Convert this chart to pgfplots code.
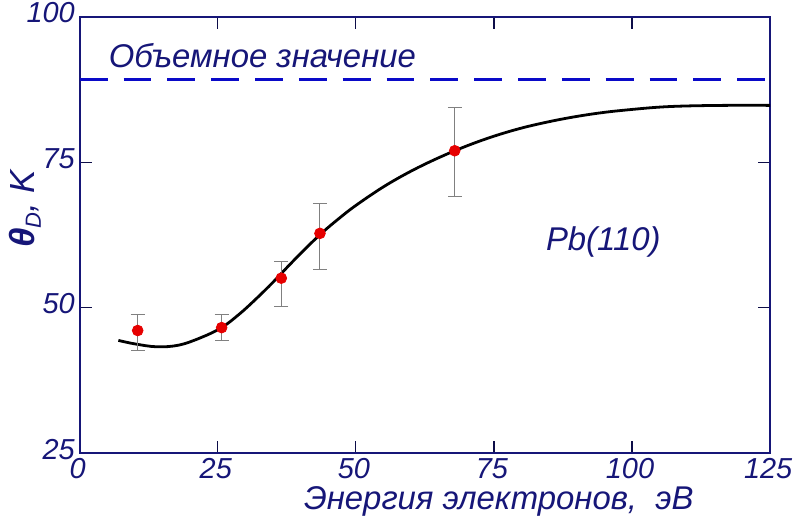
\documentclass[border=0pt]{standalone}
\usepackage{fontspec}
\setmainfont{Liberation Sans}
\usepackage{pgfplots}
\pgfplotsset{compat=1.18}
\definecolor{navy}{RGB}{22,22,120}
\definecolor{dashblue}{RGB}{10,10,200}
\definecolor{ptred}{RGB}{230,0,0}
\begin{document}
\begin{tikzpicture}
\useasboundingbox (-40pt,-31pt) rectangle (359.5pt,227.5pt);
\begin{axis}[
  at={(0,0)},anchor=south west,
  width=346.5pt,height=219pt,scale only axis,
  xmin=0,xmax=125,ymin=25,ymax=100,
  xtick={0,25,50,75,100,125},ytick={25,50,75,100},
  tick align=inside,major tick length=6pt,
  xtick pos=both,ytick pos=both,
  xticklabel pos=lower,yticklabel pos=left,
  axis line style={navy,line width=1pt},
  tick style={navy!60!black,line width=0.6pt},
  tick label style={font=\fontsize{14.5}{17}\selectfont\itshape,text=navy,inner sep=1pt},
  xticklabel style={yshift=-1.3pt,xshift=-1pt},
  yticklabel style={yshift=2pt,xshift=-1.3pt},
  /pgf/number format/assume math mode=true,
  xlabel={Энергия электронов,\ \ эВ},
  xlabel style={font=\fontsize{16.5}{18}\selectfont\itshape,text=navy,
    at={(rel axis cs:0.607,0)},anchor=north,yshift=-13pt},
  ylabel={\textbf{\textit{θ}}\raisebox{-0.35ex}{\fontsize{11}{12}\selectfont\textit{D}}\textit{, K}},
  ylabel style={font=\fontsize{17.5}{19}\selectfont\itshape,text=navy,
    at={(rel axis cs:0,0.56)},anchor=south,yshift=16pt},
  clip=false,
]
% bulk value
\addplot[dashblue,line width=1.4pt,dash pattern=on 14pt off 8pt,forget plot]
  coordinates {(0,89.2)(125,89.2)};
% fitted curve
\addplot[black,line width=1.4pt,smooth,tension=0.6]
  coordinates {(7,44.4)(10,43.8)(14,43.3)(18,43.6)(22,44.9)(25.7,46.6)
  (29,49.0)(32,51.6)(35,54.4)(38,57.4)(41,60.3)(44,63.0)(47,65.4)(50,67.6)
  (55,70.8)(60,73.5)(65,75.8)(70,77.8)(75,79.5)(80,80.9)(85,82.0)(90,82.9)
  (95,83.6)(100,84.1)(105,84.5)(110,84.7)(117,84.8)(125,84.8)};
% data with error bars
\addplot[only marks,mark=*,mark size=2.7pt,
  mark options={draw=ptred,fill=ptred},
  error bars/.cd,y dir=both,y explicit,
  error bar style={gray,line width=0.5pt},
  error mark options={rotate=90,mark size=3.5pt,gray,line width=0.5pt}]
  coordinates {
  (10.5,46.1) += (0,2.7) -= (0,3.4)
  (25.7,46.6) += (0,2.2) -= (0,2.2)
  (36.5,55.1) += (0,2.9) -= (0,4.9)
  (43.5,62.8) += (0,5.2) -= (0,6.2)
  (67.9,77.0) += (0,7.5) -= (0,7.8)
  };
\node[anchor=west,font=\fontsize{16.5}{18}\selectfont\itshape,text=navy]
  at (axis cs:4.0,93.4) {Объемное значение};
\node[font=\fontsize{16.5}{18}\selectfont\itshape,text=navy]
  at (axis cs:94.8,61.4) {Pb(110)};
\end{axis}
\end{tikzpicture}
\end{document}
